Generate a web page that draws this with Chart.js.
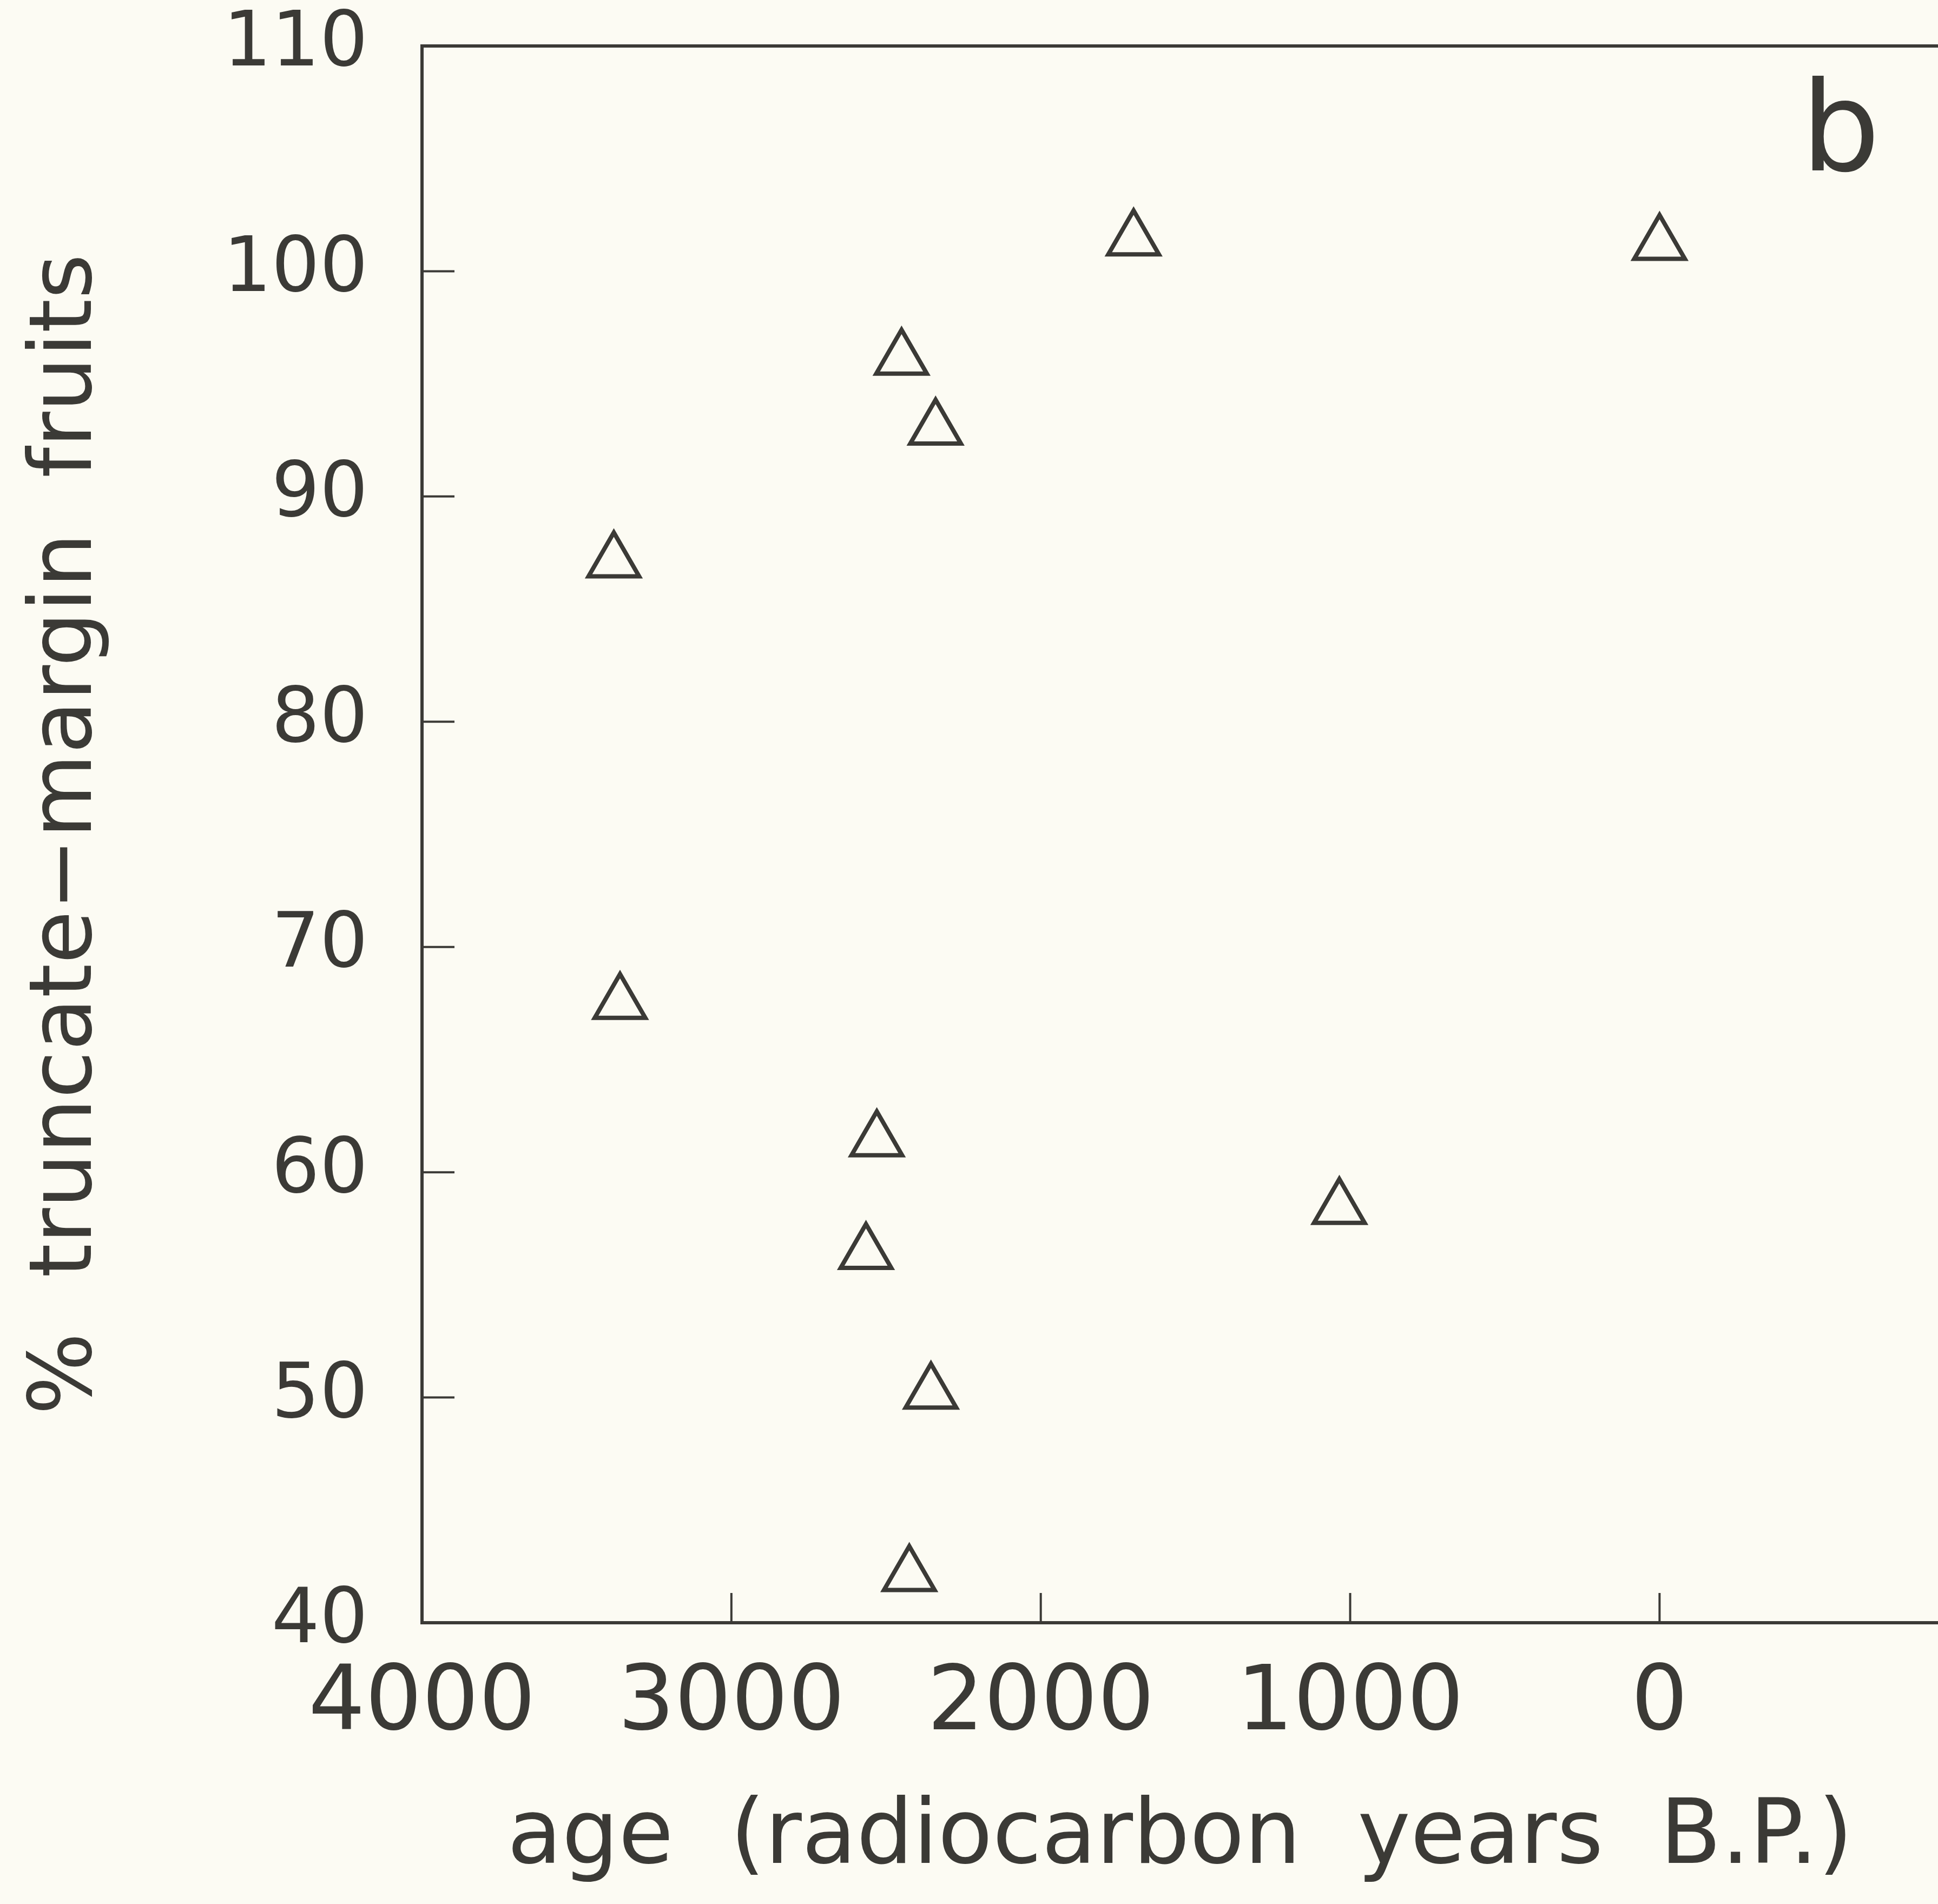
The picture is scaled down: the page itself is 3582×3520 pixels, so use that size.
<!DOCTYPE html>
<html>
<head>
<meta charset="utf-8">
<script src="https://cdn.jsdelivr.net/npm/chart.js@4"></script>
<style>
  body { margin: 0; background: #fcfbf3; }
</style>
</head>
<body>
<canvas id="ageChart" width="3582" height="3520"></canvas>
<script>
// age of sample (radiocarbon years B.P.) and % truncate-margin fruits
const ages = [1700, 0, 2450, 2340, 3380, 3360, 2530, 1035, 2565, 2355, 2425];
const truncatePct = [101.4, 101.2, 96.1, 93.0, 87.1, 67.5, 61.4, 58.4, 56.4, 50.2, 42.1];

const ageTicks = [0, 1000, 2000, 3000, 4000];
const pctTicks = [40, 50, 60, 70, 80, 90, 100, 110];

const ink = "#3b3a36";
const face = "'DejaVu Sans'";

// top line of the frame, inward ticks and the panel letter
const framePlugin = {
  id: "frame",
  afterDraw(chart) {
    const { ctx, chartArea } = chart;
    const x = chart.scales.x;
    const y = chart.scales.y;
    ctx.save();
    ctx.strokeStyle = ink;
    ctx.lineWidth = 6;
    ctx.beginPath();
    ctx.moveTo(chartArea.left, chartArea.top);
    ctx.lineTo(chartArea.right, chartArea.top);
    ctx.stroke();

    ctx.lineWidth = 4;
    pctTicks.forEach((v) => {
      const py = y.getPixelForValue(v);
      ctx.beginPath();
      ctx.moveTo(chartArea.left, py);
      ctx.lineTo(chartArea.left + 60, py);
      ctx.stroke();
    });
    ageTicks.forEach((v) => {
      const px = x.getPixelForValue(v);
      ctx.beginPath();
      ctx.moveTo(px, chartArea.bottom);
      ctx.lineTo(px, chartArea.bottom - 55);
      ctx.stroke();
    });

    ctx.fillStyle = ink;
    ctx.font = "230px " + face;
    ctx.textAlign = "center";
    ctx.textBaseline = "middle";
    ctx.fillText("b", chartArea.right - 180, chartArea.top + 170);
    ctx.restore();
  },
};

new Chart(document.getElementById("ageChart"), {
  type: "scatter",
  data: {
    datasets: [
      {
        label: "truncate-margin",
        data: ages.map((a, i) => ({ x: a, y: truncatePct[i] })),
        pointStyle: "triangle",
        pointRadius: 54,
        pointHoverRadius: 54,
        borderWidth: 8,
        borderColor: ink,
        backgroundColor: "rgba(0,0,0,0)",
      },
    ],
  },
  options: {
    responsive: false,
    animation: false,
    devicePixelRatio: 1,
    layout: { autoPadding: false, padding: { top: 85, right: 0, bottom: 0, left: 0 } },
    plugins: {
      legend: { display: false },
      tooltip: { enabled: false },
    },
    scales: {
      x: {
        type: "linear",
        reverse: true,
        min: -900,
        max: 4000,
        afterBuildTicks: (axis) => {
          axis.ticks = ageTicks.map((v) => ({ value: v }));
        },
        afterFit: (axis) => {
          axis.height = 520;
        },
        grid: { display: false, drawTicks: false },
        border: { display: true, color: ink, width: 6 },
        ticks: {
          color: ink,
          padding: 55,
          maxRotation: 0,
          callback: (v) => String(v),
          font: { family: face, size: 165 },
        },
        title: {
          display: true,
          text: "age  (radiocarbon  years  B.P.)",
          color: ink,
          font: { family: face, size: 165 },
          padding: { top: 0, bottom: 20 },
        },
      },
      y: {
        type: "linear",
        min: 40,
        max: 110,
        afterBuildTicks: (axis) => {
          axis.ticks = pctTicks.map((v) => ({ value: v }));
        },
        afterFit: (axis) => {
          axis.width = 780;
          // label gap is wide, but the frame should sit near the top edge
          axis.paddingTop = 20;
          axis.paddingBottom = 20;
        },
        grid: { display: false, drawTicks: false },
        border: { display: true, color: ink, width: 6 },
        ticks: {
          color: ink,
          padding: 100,
          callback: (v) => String(v),
          font: { family: face, size: 140 },
        },
        title: {
          display: true,
          text: "%  truncate\u2212margin  fruits",
          color: ink,
          font: { family: face, size: 160 },
          padding: { top: 30, bottom: 0 },
        },
      },
    },
  },
  plugins: [framePlugin],
});
</script>
</body>
</html>
